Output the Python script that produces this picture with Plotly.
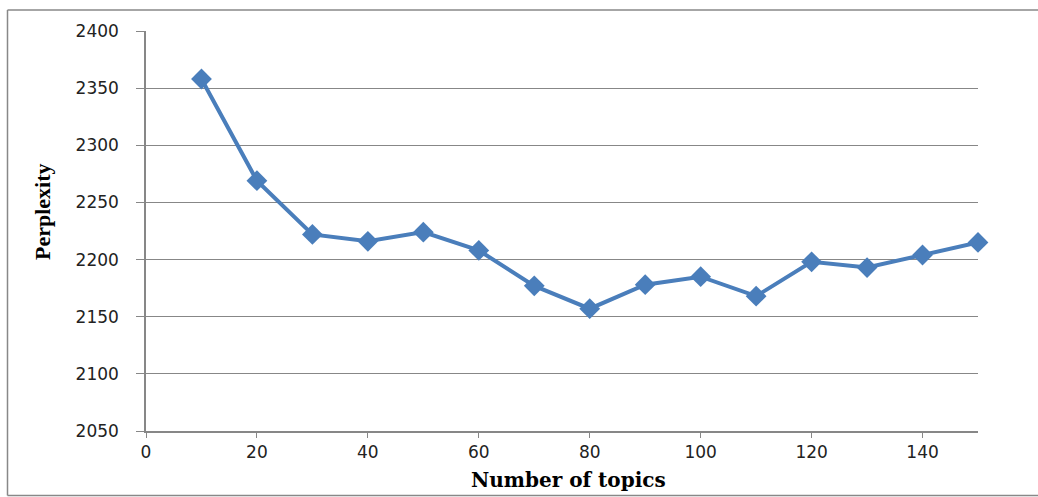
import plotly.graph_objects as go

topics = [10, 20, 30, 40, 50, 60, 70, 80, 90, 100, 110, 120, 130, 140, 150]
perplexity = [2358, 2269, 2222, 2216, 2224, 2208, 2177, 2157, 2178, 2185, 2168, 2198, 2193, 2204, 2215]
x_ticks = [0, 20, 40, 60, 80, 100, 120, 140]
y_ticks = [2050, 2100, 2150, 2200, 2250, 2300, 2350, 2400]

W, H = 1038, 497
L, T = 146, 31
R = W - 978
B = H - 431
PW = W - L - R
PH = H - T - B

fig = go.Figure()
fig.add_trace(go.Scatter(
    x=topics, y=perplexity, mode="lines+markers",
    line=dict(color="#4A7EBB", width=4),
    marker=dict(symbol="diamond", size=16, color="#4A7EBB"),
    showlegend=False, cliponaxis=False,
))

axis_color = "#878787"
fig.update_layout(
    width=W, height=H,
    margin=dict(l=L, r=R, t=T, b=B),
    paper_bgcolor="white", plot_bgcolor="white",
    font=dict(family="DejaVu Sans", size=17, color="#222222"),
    xaxis=dict(range=[0, 150], tickvals=x_ticks, showgrid=False,
               showline=True, linecolor=axis_color, linewidth=1.5,
               ticks="outside", ticklen=5, tickcolor=axis_color, tickwidth=1,
               zeroline=False, fixedrange=True),
    yaxis=dict(range=[2050, 2400], tickvals=y_ticks, showgrid=True,
               gridcolor=axis_color, gridwidth=1,
               showline=True, linecolor=axis_color, linewidth=1.5,
               ticks="outside", ticklen=8, tickcolor=axis_color, tickwidth=1,
               zeroline=False, fixedrange=True, ticklabelstandoff=14),
)

def px_x(p):
    return (p - L) / PW

def px_y(p):
    return 1 - (p - T) / PH

# outer chart border (right side is cut off in the reference)
border = dict(color="#888888", width=1.5)
x_left, x_right, y_top, y_bot = px_x(7.5), px_x(1045), px_y(10), px_y(495.5)
fig.add_shape(type="line", xref="paper", yref="paper", x0=x_left, x1=x_left, y0=y_bot, y1=y_top, line=border)
fig.add_shape(type="line", xref="paper", yref="paper", x0=x_left, x1=x_right, y0=y_top, y1=y_top, line=border)
fig.add_shape(type="line", xref="paper", yref="paper", x0=x_left, x1=x_right, y0=y_bot, y1=y_bot, line=border)

fig.add_annotation(text="Number of topics", xref="paper", yref="paper",
                   x=px_x(568), y=px_y(480), xanchor="center", yanchor="middle",
                   showarrow=False,
                   font=dict(family="DejaVu Serif", size=20, color="black", weight="bold"))
fig.add_annotation(text="Perplexity", xref="paper", yref="paper",
                   x=px_x(42), y=px_y(212), xanchor="center", yanchor="middle",
                   showarrow=False, textangle=-90,
                   font=dict(family="Liberation Serif", size=22, color="black", weight="bold"))

fig.write_html(
    "out.html",
    config={"displayModeBar": False},
    post_script="document.body.style.margin='0';document.body.style.overflow='hidden';",
)
